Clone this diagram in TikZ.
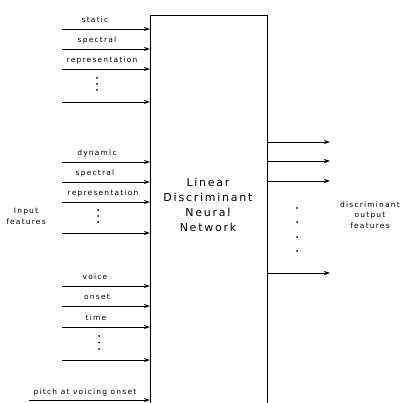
\documentclass[tikz,border=0pt]{standalone}
\usepackage{fontspec}
\setmainfont{DejaVu Sans}[LetterSpace=16]
\usetikzlibrary{arrows.meta}
\begin{document}
\begin{tikzpicture}[x=1pt,y=-1pt,
  lab/.style={font=\fontsize{7.5}{10.5}\selectfont, inner sep=0pt, anchor=base},
  feat/.style={font=\fontsize{7.5}{10.5}\selectfont, align=center, inner sep=0pt},
  arr/.style={-{Stealth[length=6pt,width=4pt]}, line width=0.8pt},
  boxline/.style={line width=0.9pt},
  dot/.style={circle, fill, inner sep=0pt, minimum size=2pt}]
\useasboundingbox (0,0) rectangle (404,403);
% network box (open at the bottom)
\node[minimum width=117pt, minimum height=388pt, inner sep=0pt, anchor=north west] (net) at (150,15) {};
\draw[boxline] (net.south west) -- (net.north west) -- (net.north east) -- (net.south east);
\node[font=\fontsize{11}{15}\selectfont, align=center] (title) at (208,205) {Linear\\Discriminant\\Neural\\Network};
% input group 1
\coordinate (i1) at (62,29);  \draw[arr] (i1) -- (i1 -| net.west);
\coordinate (i2) at (62,49);  \draw[arr] (i2) -- (i2 -| net.west);
\coordinate (i3) at (62,69);  \draw[arr] (i3) -- (i3 -| net.west);
\coordinate (i4) at (62,102); \draw[arr] (i4) -- (i4 -| net.west);
\node[lab] (l1) at (95,22.5) {static};
\node[lab] (l2) at (97,42.5) {spectral};
\node[lab] (l3) at (102,62.5) {representation};
\node[dot] (d1a) at (97,78) {};
\node[dot] (d1b) at (97,84) {};
\node[dot] (d1c) at (97,90) {};
% input group 2
\coordinate (i5) at (62,162); \draw[arr] (i5) -- (i5 -| net.west);
\coordinate (i6) at (62,182); \draw[arr] (i6) -- (i6 -| net.west);
\coordinate (i7) at (62,202); \draw[arr] (i7) -- (i7 -| net.west);
\coordinate (i8) at (62,233); \draw[arr] (i8) -- (i8 -| net.west);
\node[lab] (l5) at (97,155.5) {dynamic};
\node[lab] (l6) at (95,175.5) {spectral};
\node[lab] (l7) at (103,195.5) {representation};
\node[dot] (d2a) at (98,210) {};
\node[dot] (d2b) at (98,216) {};
\node[dot] (d2c) at (98,222) {};
% input group 3
\coordinate (i9) at (62,286);  \draw[arr] (i9) -- (i9 -| net.west);
\coordinate (i10) at (62,306); \draw[arr] (i10) -- (i10 -| net.west);
\coordinate (i11) at (62,327); \draw[arr] (i11) -- (i11 -| net.west);
\coordinate (i12) at (62,360); \draw[arr] (i12) -- (i12 -| net.west);
\node[lab] (l9) at (95,279.5) {voice};
\node[lab] (l10) at (97,299.5) {onset};
\node[lab] (l11) at (96,320.5) {time};
\node[dot] (d3a) at (99,336) {};
\node[dot] (d3b) at (99,342.5) {};
\node[dot] (d3c) at (99,349) {};
% pitch
\coordinate (i13) at (29,400); \draw[arr] (i13) -- (i13 -| net.west);
\node[lab] (l13) at (85,394) {pitch at voicing onset};
\node[feat] (inf) at (26,216.5) {Input\\features};
% outputs
\coordinate (o1) at (330,142); \draw[arr] (o1 -| net.east) -- (o1);
\coordinate (o2) at (330,161); \draw[arr] (o2 -| net.east) -- (o2);
\coordinate (o3) at (330,181); \draw[arr] (o3 -| net.east) -- (o3);
\coordinate (o4) at (330,273); \draw[arr] (o4 -| net.east) -- (o4);
\node[dot] (d4a) at (297,208) {};
\node[dot] (d4b) at (297,222) {};
\node[dot] (d4c) at (297,237) {};
\node[dot] (d4d) at (297,251) {};
\node[feat] (outf) at (370,215) {discriminant\\output\\features};
\end{tikzpicture}
\end{document}
